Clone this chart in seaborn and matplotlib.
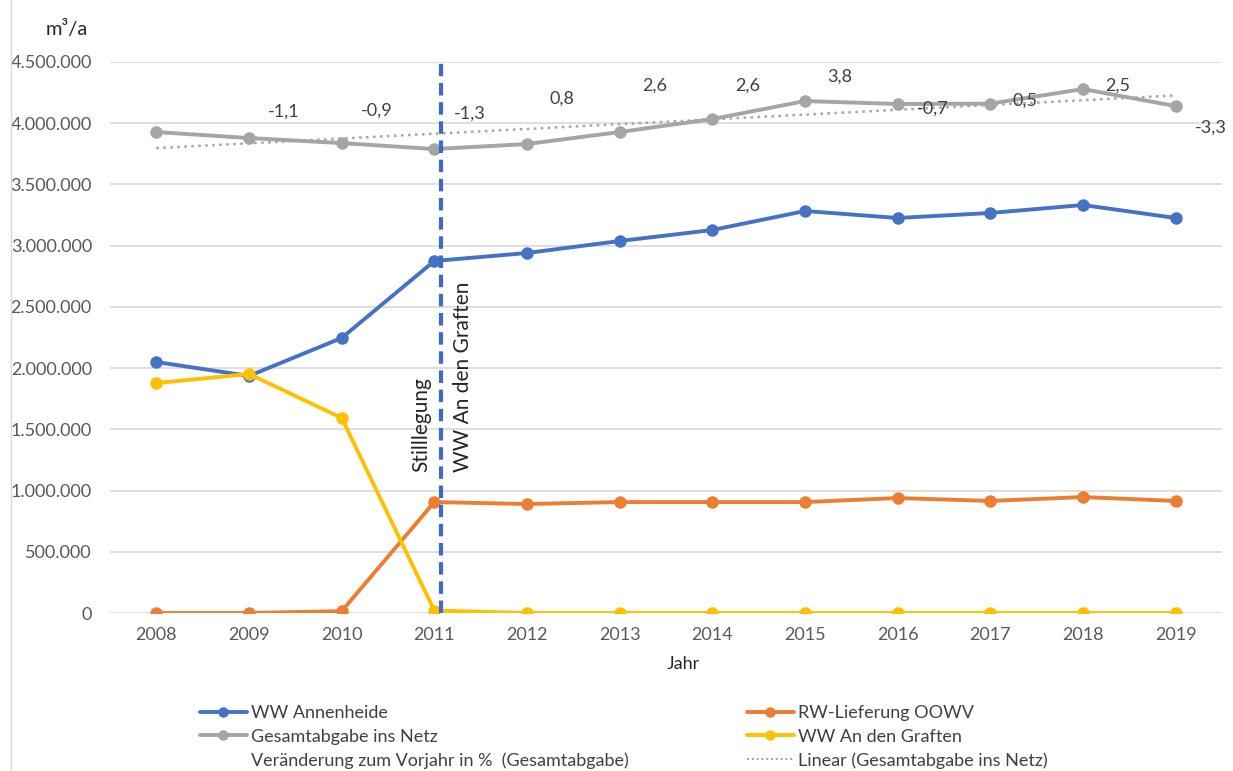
import numpy as np
import pandas as pd
import matplotlib
matplotlib.use("Agg")
import matplotlib.pyplot as plt
from matplotlib.lines import Line2D
import seaborn as sns

years = [2008, 2009, 2010, 2011, 2012, 2013, 2014, 2015, 2016, 2017, 2018, 2019]
ww_annenheide = [2050000, 1936000, 2246000, 2875000, 2940000, 3038000, 3128000, 3283000, 3226000, 3267000, 3332000, 3226000]
rw_oowv = [0, 0, 15000, 906000, 890000, 906000, 906000, 906000, 939000, 915000, 947000, 915000]
gesamt = [3928000, 3879000, 3838000, 3789000, 3830000, 3928000, 4034000, 4181000, 4157000, 4160000, 4279000, 4140000]
ww_graften = [1878000, 1952000, 1593000, 20000, 0, 0, 0, 0, 0, 0, 0, 0]
pct_years = [2009, 2010, 2011, 2012, 2013, 2014, 2015, 2016, 2017, 2018, 2019]
pct_change = [-1.1, -0.9, -1.3, 0.8, 2.6, 2.6, 3.8, -0.7, 0.5, 2.5, -3.3]
yticks = [0, 500000, 1000000, 1500000, 2000000, 2500000, 3000000, 3500000, 4000000, 4500000]

names = ["WW Annenheide", "RW-Lieferung OOWV", "Gesamtabgabe ins Netz", "WW An den Graften"]
colors = {"WW Annenheide": "#4472C4", "RW-Lieferung OOWV": "#ED7D31",
          "Gesamtabgabe ins Netz": "#A5A5A5", "WW An den Graften": "#FFC000"}

df = pd.DataFrame({"Jahr": years * 4,
                   "Wert": ww_annenheide + rw_oowv + gesamt + ww_graften,
                   "Serie": sum([[n] * len(years) for n in names], [])})

sns.set_theme(style="white")
plt.rcParams["font.family"] = ["Lato", "DejaVu Sans"]

fig = plt.figure(figsize=(12.33, 7.71), dpi=100)
ax = fig.add_axes([110 / 1233, 1 - 613 / 771, (1222 - 110) / 1233, (613 - 62) / 771])

for i, n in enumerate(names):
    sns.lineplot(data=df[df["Serie"] == n], x="Jahr", y="Wert", color=colors[n],
                 linewidth=2.8, marker="o", markersize=9, markeredgewidth=0,
                 ax=ax, zorder=3 + i, legend=False)

# linear trend of Gesamtabgabe
coef = np.polyfit(years, gesamt, 1)
trend = np.polyval(coef, years)
sns.lineplot(x=years, y=trend, color="#A5A5A5", linewidth=1.8, linestyle=(0, (1, 1.8)), ax=ax, zorder=2)

ax.set_xlim(2007.5, 2019.5)
ax.set_ylim(0, 4500000)
ax.set_xticks(years)
ax.set_xticklabels([str(y) for y in years])
ax.set_yticks(yticks)
ax.set_yticklabels([f"{v:,}".replace(",", ".") for v in yticks])
ax.tick_params(axis="both", length=0, labelsize=13, labelcolor="#595959")
ax.tick_params(axis="y", pad=13)
ax.tick_params(axis="x", pad=10)
ax.grid(axis="y", color="#D9D9D9", linewidth=1.2)
ax.set_axisbelow(True)
for s in ax.spines.values():
    s.set_visible(False)
ax.set_xlabel("Jahr", fontsize=13, color="#262626")
ax.xaxis.set_label_coords((683 - 110) / (1222 - 110), -(656 - 613) / (613 - 62))
ax.set_ylabel("")

# vertical marker
ax.axvline(2011.07, color="#3A6BC9", linewidth=3, linestyle=(0, (3, 1.6)), zorder=10)
ax.text(2010.86, 1150000, "Stilllegung", rotation=90, ha="center", va="bottom", fontsize=15, color="#262626")
ax.text(2011.31, 1150000, "WW An den Graften", rotation=90, ha="center", va="bottom", fontsize=15, color="#262626")

# percent change labels on hidden secondary axis
ax2 = ax.twinx()
ax2.set_ylim(-70.9, 5.85)
ax2.axis("off")
for yr, p in zip(pct_years, pct_change):
    ax2.annotate(f"{p:.1f}".replace(".", ","), (yr, p), xytext=(35, 0), textcoords="offset pixels",
                 ha="center", va="center", fontsize=13, color="#404040")

fig.text(88 / 1233, 1 - 29 / 771, "m³/a", ha="right", va="center", fontsize=14.5, color="#262626")

handles = [
    Line2D([], [], color=colors["WW Annenheide"], lw=2.8, marker="o", ms=6.5),
    Line2D([], [], color=colors["Gesamtabgabe ins Netz"], lw=2.8, marker="o", ms=6.5),
    Line2D([], [], color="none"),
    Line2D([], [], color=colors["RW-Lieferung OOWV"], lw=2.8, marker="o", ms=6.5),
    Line2D([], [], color=colors["WW An den Graften"], lw=2.8, marker="o", ms=6.5),
    Line2D([], [], color="#A5A5A5", lw=1.5, linestyle=(0, (1, 1.3))),
]
labels = ["WW Annenheide", "Gesamtabgabe ins Netz", "Veränderung zum Vorjahr in %  (Gesamtabgabe)",
          "RW-Lieferung OOWV", "WW An den Graften", "Linear (Gesamtabgabe ins Netz)"]
fig.legend(handles, labels, ncol=2, loc="upper left", bbox_to_anchor=(200 / 1233, 1 - 705 / 771),
           frameon=False, fontsize=13, handlelength=2.6, handletextpad=0.25, labelspacing=0.42,
           columnspacing=6.5, borderpad=0, borderaxespad=0, labelcolor="#404040")

fig.add_artist(Line2D([11 / 1233, 11 / 1233], [0, 1], color="#D9D9D9", lw=1))

fig.savefig("out.png", dpi=100)
